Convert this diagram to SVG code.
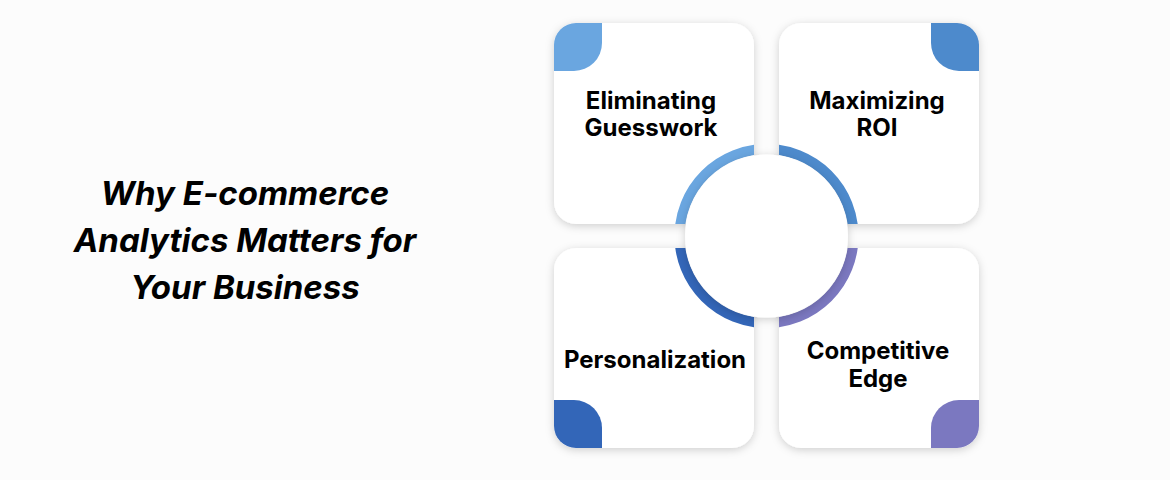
<svg xmlns="http://www.w3.org/2000/svg" width="1170" height="480" viewBox="0 0 1170 480">
<defs>
<style>
.card{fill:#fff;filter:url(#sh)}
.lbl{font-family:Inter,"Noto Sans",sans-serif;font-weight:700;font-size:24px;fill:#000;text-anchor:middle}
.ttl{font-family:Inter,"Noto Sans",sans-serif;font-weight:700;font-style:italic;font-size:33px;fill:#000;text-anchor:middle}
</style>
<filter id="sh" x="-20%" y="-20%" width="140%" height="140%"><feDropShadow dx="0" dy="2" stdDeviation="4" flood-color="#000" flood-opacity="0.18"/></filter>
<clipPath id="c1"><rect x="554" y="23" width="200" height="201"/></clipPath>
<clipPath id="c2"><rect x="779" y="23" width="200" height="201"/></clipPath>
<clipPath id="c3"><rect x="554" y="248" width="200" height="200"/></clipPath>
<clipPath id="c4"><rect x="779" y="248" width="200" height="200"/></clipPath>
</defs>
<rect width="1170" height="480" fill="#fcfcfc"/>
<g id="title">
<text class="ttl" x="245" y="205">Why E-commerce</text>
<text class="ttl" x="245" y="252">Analytics Matters for</text>
<text class="ttl" x="245" y="299">Your Business</text>
</g>
<g id="n1"><rect class="card" x="554" y="23" width="200" height="201" rx="22"/>
<path d="M554,45 a22,22 0 0 1 22,-22 h26 v20 a28,28 0 0 1 -28,28 h-20 z" fill="#6aa6e0"/>
<text class="lbl" x="651" y="109">Eliminating</text><text class="lbl" x="651" y="136">Guesswork</text></g>
<g id="n2"><rect class="card" x="779" y="23" width="200" height="201" rx="22"/>
<path d="M979,45 a22,22 0 0 0 -22,-22 h-26 v20 a28,28 0 0 0 28,28 h20 z" fill="#4d8acc"/>
<text class="lbl" x="877" y="109">Maximizing</text><text class="lbl" x="877" y="136">ROI</text></g>
<g id="n3"><rect class="card" x="554" y="248" width="200" height="200" rx="22"/>
<path d="M554,426 a22,22 0 0 0 22,22 h26 v-20 a28,28 0 0 0 -28,-28 h-20 z" fill="#3366b8"/>
<text class="lbl" x="655" y="368">Personalization</text></g>
<g id="n4"><rect class="card" x="779" y="248" width="200" height="200" rx="22"/>
<path d="M979,426 a22,22 0 0 1 -22,22 h-26 v-20 a28,28 0 0 1 28,-28 h20 z" fill="#7b78c0"/>
<text class="lbl" x="878" y="359">Competitive</text><text class="lbl" x="878" y="387">Edge</text></g>
<g id="ring">
<circle cx="766.5" cy="236" r="87" fill="none" stroke="#6aa6e0" stroke-width="10" clip-path="url(#c1)"/>
<circle cx="766.5" cy="236" r="87" fill="none" stroke="#4d8acc" stroke-width="10" clip-path="url(#c2)"/>
<circle cx="766.5" cy="236" r="87" fill="none" stroke="#3366b8" stroke-width="10" clip-path="url(#c3)"/>
<circle cx="766.5" cy="236" r="87" fill="none" stroke="#7b78c0" stroke-width="10" clip-path="url(#c4)"/>
<circle cx="766.5" cy="236" r="81.5" fill="#fff" filter="url(#sh)"/>
</g>
</svg>
